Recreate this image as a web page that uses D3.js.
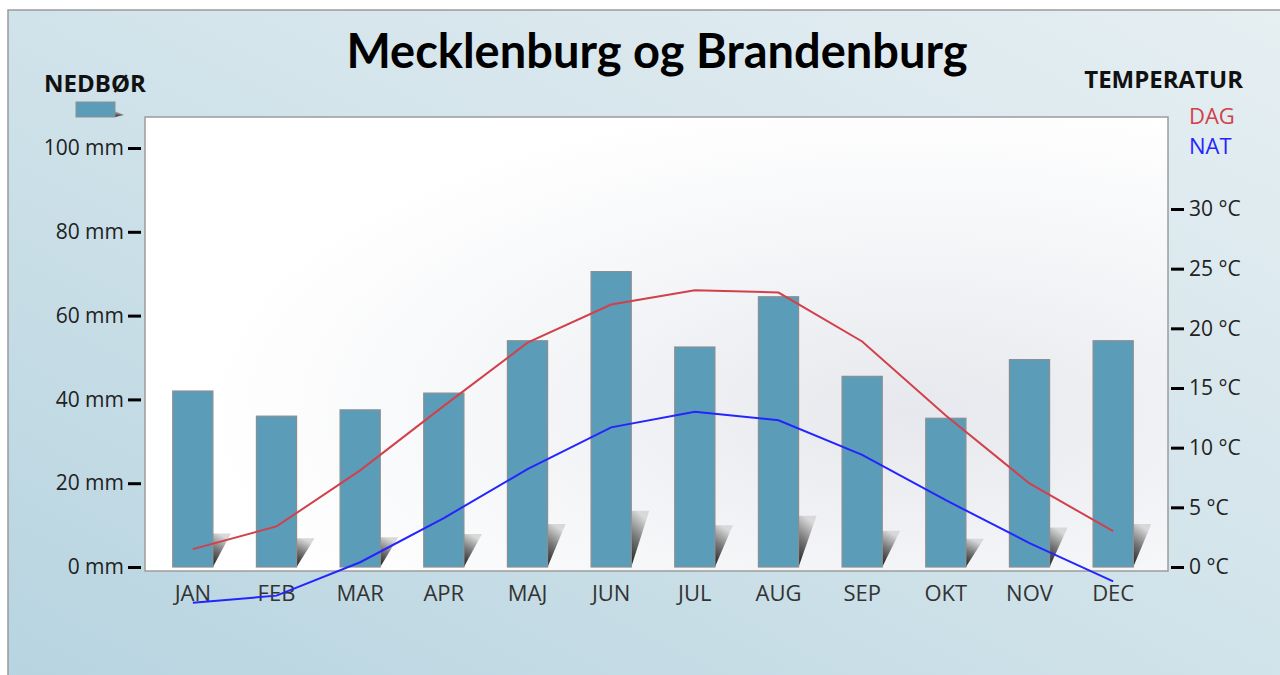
<!DOCTYPE html>
<html>
<head>
<meta charset="utf-8">
<script src="https://cdn.jsdelivr.net/npm/d3@7"></script>
<style>
  html, body { margin: 0; padding: 0; background: #fff; }
  svg { display: block; }
</style>
</head>
<body>
<div id="chart"></div>
<script>
const months = ["JAN", "FEB", "MAR", "APR", "MAJ", "JUN", "JUL", "AUG", "SEP", "OKT", "NOV", "DEC"];
const precipitation = [42, 36, 37.5, 41.5, 54, 70.5, 52.5, 64.5, 45.5, 35.5, 49.5, 54];
const dayTemp = [1.5, 3.4, 8.1, 13.5, 18.8, 22.0, 23.2, 23.0, 18.9, 12.7, 7.0, 3.0];
const nightTemp = [-3.0, -2.4, 0.4, 4.1, 8.2, 11.7, 13.0, 12.3, 9.4, 5.6, 2.0, -1.2];
const mmTicks = [0, 20, 40, 60, 80, 100];
const tempTicks = [0, 5, 10, 15, 20, 25, 30];

const W = 1280, H = 675;
const plot = {x0: 145, x1: 1168, y0: 117, y1: 571};
const FONT = "'Open Sans', 'DejaVu Sans', sans-serif";

const svg = d3.select("#chart").append("svg")
  .attr("width", W).attr("height", H);

const defs = svg.append("defs");

// background gradient
const bg = defs.append("linearGradient").attr("id", "bg")
  .attr("x1", "100%").attr("y1", "0%").attr("x2", "0%").attr("y2", "100%");
bg.append("stop").attr("offset", "0%").attr("stop-color", "#e6eff2");
bg.append("stop").attr("offset", "45%").attr("stop-color", "#d3e4eb");
bg.append("stop").attr("offset", "100%").attr("stop-color", "#b7d4e0");

// plot area shading
const pg = defs.append("radialGradient").attr("id", "plotbg")
  .attr("cx", "75%").attr("cy", "65%").attr("r", "70%");
pg.append("stop").attr("offset", "0%").attr("stop-color", "#e6e8ed");
pg.append("stop").attr("offset", "60%").attr("stop-color", "#f6f7f9");
pg.append("stop").attr("offset", "100%").attr("stop-color", "#ffffff");

// bar shadow gradient (dark at the foot, fading upward)
const sg = defs.append("linearGradient").attr("id", "shadow")
  .attr("x1", "0%").attr("y1", "100%").attr("x2", "30%").attr("y2", "0%");
sg.append("stop").attr("offset", "0%").attr("stop-color", "#1a1a1a");
sg.append("stop").attr("offset", "55%").attr("stop-color", "#777");
sg.append("stop").attr("offset", "100%").attr("stop-color", "#d8d8d8");

// panel
svg.append("rect").attr("x", 8).attr("y", 10).attr("width", W).attr("height", H)
  .attr("fill", "url(#bg)").attr("stroke", "#9a9a9a").attr("stroke-width", 1.5);

// plot area
svg.append("rect")
  .attr("x", plot.x0).attr("y", plot.y0)
  .attr("width", plot.x1 - plot.x0).attr("height", plot.y1 - plot.y0)
  .attr("fill", "url(#plotbg)").attr("stroke", "#9c9c9c").attr("stroke-width", 1.5);

// scales
const x = d3.scaleBand().domain(months).range([151, 1155]).paddingInner(0.52).paddingOuter(0.26);
const yMm = d3.scaleLinear().domain([0, 100]).range([567, 148]);
const yT = d3.scaleLinear().domain([0, 30]).range([567, 209]);
const xc = m => x(m) + x.bandwidth() / 2;

// bars + shadows
const bars = svg.append("g");
months.forEach((m, i) => {
  const bx = x(m), bw = x.bandwidth();
  const top = yMm(precipitation[i]), base = yMm(0);
  const sh = (base - top) * 0.19;
  bars.append("path")
    .attr("d", `M${bx + bw},${base} L${bx + bw},${base - sh} L${bx + bw + 18},${base - sh} Z`)
    .attr("fill", "url(#shadow)");
  bars.append("rect")
    .attr("x", bx).attr("y", top).attr("width", bw).attr("height", base - top)
    .attr("fill", "#5b9db8").attr("stroke", "#8a8f92").attr("stroke-width", 1.2);
});

// left axis
const axL = svg.append("g").attr("transform", "translate(141,0)")
  .call(d3.axisLeft(yMm).tickValues(mmTicks).tickSize(13).tickPadding(4).tickFormat(d => d + " mm"));
axL.select(".domain").remove();
axL.selectAll(".tick line").attr("stroke", "#000").attr("stroke-width", 3);
axL.selectAll(".tick text").attr("font-family", FONT).attr("font-size", 21).attr("fill", "#222");

// right axis
const axR = svg.append("g").attr("transform", "translate(1171,0)")
  .call(d3.axisRight(yT).tickValues(tempTicks).tickSize(13).tickPadding(5).tickFormat(d => d + " °C"));
axR.select(".domain").remove();
axR.selectAll(".tick line").attr("stroke", "#000").attr("stroke-width", 3);
axR.selectAll(".tick text").attr("font-family", FONT).attr("font-size", 21).attr("fill", "#222");

// month labels
svg.append("g").selectAll("text").data(months).join("text")
  .attr("x", d => xc(d)).attr("y", 601)
  .attr("text-anchor", "middle")
  .attr("font-family", FONT).attr("font-size", 22).attr("fill", "#333")
  .text(d => d);

// temperature lines
const line = d3.line().x((d, i) => xc(months[i])).y(d => yT(d));
svg.append("path").datum(dayTemp).attr("d", line)
  .attr("fill", "none").attr("stroke", "#d2404c").attr("stroke-width", 2);
svg.append("path").datum(nightTemp).attr("d", line)
  .attr("fill", "none").attr("stroke", "#2424ff").attr("stroke-width", 2);

// title
svg.append("text").attr("x", 657).attr("y", 68).attr("text-anchor", "middle")
  .attr("font-family", "Lato, " + FONT).attr("font-weight", "bold").attr("font-size", 47)
  .attr("fill", "#000").text("Mecklenburg og Brandenburg");

// legends
svg.append("text").attr("x", 95).attr("y", 92).attr("text-anchor", "middle")
  .attr("font-family", FONT).attr("font-weight", "bold").attr("font-size", 24)
  .attr("fill", "#111").text("NEDBØR");
svg.append("path").attr("d", "M115,117 L115,111 L124,115 Z").attr("fill", "url(#shadow)");
svg.append("rect").attr("x", 76).attr("y", 102).attr("width", 39).attr("height", 15)
  .attr("fill", "#5b9db8").attr("stroke", "#8a8f92");

svg.append("text").attr("x", 1243).attr("y", 88).attr("text-anchor", "end")
  .attr("font-family", FONT).attr("font-weight", "bold").attr("font-size", 24)
  .attr("fill", "#111").text("TEMPERATUR");
svg.append("text").attr("x", 1189).attr("y", 124)
  .attr("font-family", FONT).attr("font-size", 22).attr("fill", "#d2404c").text("DAG");
svg.append("text").attr("x", 1189).attr("y", 154)
  .attr("font-family", FONT).attr("font-size", 22).attr("fill", "#2424ff").text("NAT");
</script>
</body>
</html>
